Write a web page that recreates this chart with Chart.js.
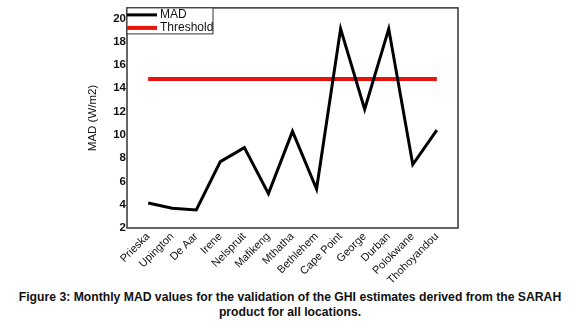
<!DOCTYPE html>
<html lang="en">
  <head>
    <meta charset="utf-8" />
    <title>Monthly MAD values</title>
    <style>
      * {
        margin: 0;
        padding: 0;
      }
      body {
        width: 580px;
        height: 332px;
        background: #fff;
        font-family: "Liberation Sans", Arial, sans-serif;
      }
      .chartBox {
        width: 580px;
        height: 284px;
        position: relative;
      }
      .caption {
        text-align: center;
        font-weight: bold;
        font-size: 12.2px;
        line-height: 15px;
        color: #111;
        margin-top: 6px;
        white-space: nowrap;
      }
    </style>
  </head>
  <body>
    <div class="chartBox">
      <canvas id="myChart"></canvas>
    </div>
    <p class="caption">
      Figure 3: Monthly MAD values for the validation of the GHI estimates derived from the SARAH<br />
      product for all locations.
    </p>

    <script src="https://cdn.jsdelivr.net/npm/chart.js"></script>
    <script>
      // data block
      const locations = [
        "Prieska", "Upington", "De Aar", "Irene", "Nelspruit", "Mafikeng", "Mthatha",
        "Bethlehem", "Cape Point", "George", "Durban", "Polokwane", "Thohoyandou",
      ];
      const madValues = [4.15, 3.7, 3.55, 7.7, 8.9, 4.95, 10.3, 5.35, 19.1, 12.2, 19.1, 7.45, 10.4];
      const thresholdValue = 14.8;
      const yTicks = [2, 4, 6, 8, 10, 12, 14, 16, 18, 20];

      // box round the plot + legend in the top-left corner
      const frameAndLegend = {
        id: "frameAndLegend",
        afterDraw(chart) {
          const { ctx, chartArea: a } = chart;
          ctx.save();
          ctx.strokeStyle = "#333";
          ctx.lineWidth = 1.5;
          ctx.strokeRect(a.left, a.top, a.right - a.left, a.bottom - a.top);

          // legend box
          ctx.lineWidth = 1;
          ctx.fillStyle = "#fff";
          ctx.fillRect(a.left, a.top, 86, 26);
          ctx.strokeRect(a.left, a.top, 86, 26);
          ctx.lineWidth = 3;
          ctx.strokeStyle = "#000";
          ctx.beginPath();
          ctx.moveTo(a.left, a.top + 7);
          ctx.lineTo(a.left + 30, a.top + 7);
          ctx.stroke();
          ctx.lineWidth = 4;
          ctx.strokeStyle = "#e8140c";
          ctx.beginPath();
          ctx.moveTo(a.left, a.top + 20);
          ctx.lineTo(a.left + 30, a.top + 20);
          ctx.stroke();
          ctx.fillStyle = "#111";
          ctx.font = "12px 'Liberation Sans', Arial";
          ctx.textBaseline = "middle";
          ctx.fillText("MAD", a.left + 33, a.top + 7);
          ctx.fillText("Threshold", a.left + 33, a.top + 20);
          ctx.restore();
        },
      };

      const data = {
        datasets: [
          {
            label: "MAD",
            data: madValues.map((v, i) => ({ x: i, y: v })),
            borderColor: "#000",
            borderWidth: 3,
            pointRadius: 0,
            tension: 0,
          },
          {
            label: "Threshold",
            data: [
              { x: 0, y: thresholdValue },
              { x: locations.length - 1, y: thresholdValue },
            ],
            borderColor: "#e8140c",
            borderWidth: 4,
            pointRadius: 0,
          },
        ],
      };

      const config = {
        type: "line",
        data: data,
        options: {
          responsive: true,
          maintainAspectRatio: false,
          animation: false,
          layout: { padding: { left: 82, right: 122, top: 7, bottom: 0 } },
          plugins: {
            legend: { display: false },
            tooltip: { enabled: false },
          },
          scales: {
            x: {
              type: "linear",
              min: -0.88,
              max: 12.88,
              afterBuildTicks: (s) => {
                s.ticks = locations.map((_, i) => ({ value: i }));
              },
              afterFit: (s) => {
                s.height = 56;
              },
              grid: { display: false, drawTicks: false },
              border: { display: false },
              ticks: {
                autoSkip: false,
                minRotation: 45,
                maxRotation: 45,
                padding: 2,
                color: "#111",
                font: { family: "'Liberation Sans', Arial", size: 11 },
                callback: (v) => locations[v],
              },
            },
            y: {
              min: 2,
              max: 20.9,
              afterBuildTicks: (s) => {
                s.ticks = yTicks.map((v) => ({ value: v }));
              },
              afterFit: (s) => {
                s.width = 45;
              },
              grid: { display: false, drawTicks: false },
              border: { display: false },
              title: {
                display: true,
                text: "MAD (W/m2)",
                color: "#111",
                font: { family: "'Liberation Sans', Arial", size: 11.5 },
              },
              ticks: {
                padding: 1,
                color: "#111",
                font: { family: "'Liberation Sans', Arial", size: 11.5, weight: "bold" },
              },
            },
          },
        },
        plugins: [frameAndLegend],
      };

      const myChart = new Chart(document.getElementById("myChart"), config);
    </script>
  </body>
</html>
